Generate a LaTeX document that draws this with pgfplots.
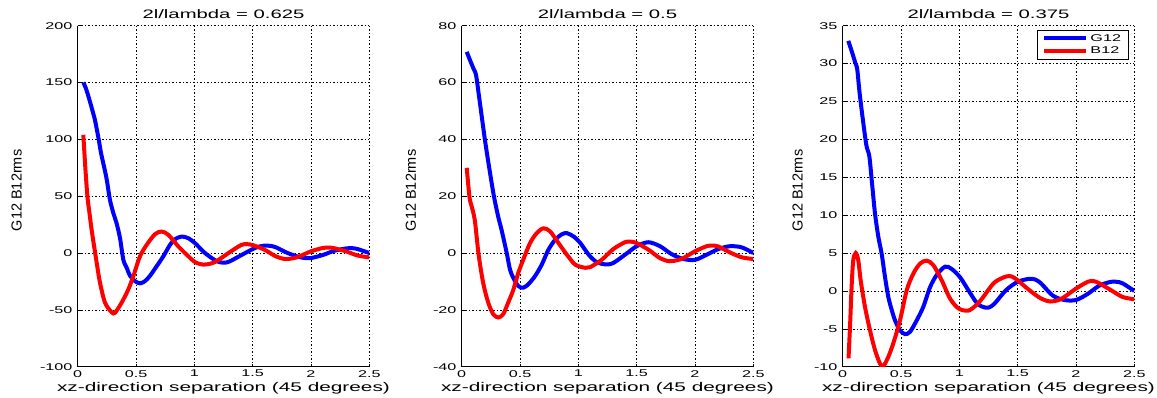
\documentclass[border=0pt]{standalone}
\usepackage{pgfplots}
\pgfplotsset{compat=1.18}
\usepackage{fontspec}
\setmainfont{Liberation Sans}
\newfontfamily\widefont{Liberation Sans}[FakeStretch=1.65]
\newcommand\tickfont{\widefont\fontsize{9.8}{11}\selectfont}
\newcommand\titlefont{\widefont\fontsize{12.3}{14}\selectfont}
\newcommand\labfont{\widefont\fontsize{12.6}{14}\selectfont}
\newcommand\ylabfont{\fontsize{14.5}{16}\selectfont}
\definecolor{mblue}{RGB}{0,0,255}
\definecolor{mred}{RGB}{255,0,0}
\pgfplotsset{mystyle/.style={
  scale only axis, width=291.6pt, height=341pt,
  xmin=0, xmax=2.5, xtick={0,0.5,1,1.5,2,2.5},
  axis x line*=bottom, axis y line*=left,
  axis line style={-, black, line width=0.6pt},
  tick align=inside, major tick length=3pt,
  tick style={black, line width=0.5pt},
  grid=major,
  major grid style={black, line width=0.5pt, dash pattern=on 1.5pt off 2pt},
  /pgf/number format/assume math mode=true,
  ticklabel style={font=\tickfont},
  yticklabel style={xshift=-1.7pt},
  title style={font=\titlefont, at={(axis description cs:0.5,1.0218)}, anchor=base, yshift=-6pt},
  xlabel style={font=\labfont, at={(axis description cs:0.5,-0.0733)}, anchor=base},
  ylabel style={font=\ylabfont, anchor=center},
  xlabel={xz-direction separation (45 degrees)},
  ylabel={G12 B12rms},
  every axis plot/.append style={line width=4pt, smooth, tension=0.5},
  clip=true,
}}
\begin{document}
\begin{tikzpicture}
\path[use as bounding box] (0,0) rectangle (1157pt,398pt);
% Panel 1
\begin{axis}[mystyle, at={(77.7pt,31.3pt)}, anchor=south west,
  ymin=-100, ymax=200, ytick={-100,-50,0,50,100,150,200},
  title={2l/lambda = 0.625},
  ylabel style={at={(axis description cs:-0.2092,0.517)}}]
\addplot[mblue, no markers] coordinates {(0.048,150)(0.07,145)(0.1,135)(0.13,124)(0.15,116)(0.18,100)(0.2,88)(0.23,74)(0.25,64)(0.277,46.5)(0.306,35)(0.334,26)(0.363,13)(0.391,-5.8)(0.42,-13)(0.449,-20)(0.491,-24.7)(0.534,-26.7)(0.577,-24.7)(0.62,-20)(0.677,-11.6)(0.734,-2.9)(0.792,7.3)(0.834,12.2)(0.892,14.5)(0.949,13)(1.006,8.7)(1.08,1)(1.15,-4.5)(1.2,-7.5)(1.25,-8.5)(1.3,-7.5)(1.4,-2)(1.5,3.5)(1.55,5.5)(1.6,6.5)(1.65,6.3)(1.7,5)(1.8,0)(1.9,-3.5)(1.95,-4.4)(2.0,-4.4)(2.1,-1.8)(2.2,2)(2.3,4)(2.35,4.3)(2.4,3.5)(2.5,0)};
\addplot[mred, no markers] coordinates {(0.048,104)(0.06,84)(0.07,68)(0.085,48)(0.1,36)(0.12,20)(0.163,-8.7)(0.191,-26)(0.234,-43.6)(0.29,-52)(0.32,-52.5)(0.377,-43.6)(0.434,-32)(0.477,-20.3)(0.534,-2.9)(0.592,7.3)(0.663,16.6)(0.72,18.9)(0.777,16)(0.863,5.8)(0.935,-1.5)(1.006,-8)(1.08,-10.2)(1.15,-9)(1.2,-6.5)(1.3,0.5)(1.4,7)(1.45,7.8)(1.5,7)(1.6,3)(1.7,-3)(1.78,-5.3)(1.85,-4.5)(1.9,-3)(2.0,1.5)(2.1,4.4)(2.15,4.8)(2.2,4.2)(2.3,1.5)(2.4,-2.2)(2.5,-3.8)};
\end{axis}
% Panel 2
\begin{axis}[mystyle, at={(461.7pt,31.3pt)}, anchor=south west,
  ymin=-40, ymax=80, ytick={-40,-20,0,20,40,60,80},
  title={2l/lambda = 0.5},
  ylabel style={at={(axis description cs:-0.1739,0.517)}}]
\addplot[mblue, no markers] coordinates {(0.043,70.8)(0.07,68)(0.1,65)(0.123,62.6)(0.149,55)(0.2,39.6)(0.244,27.9)(0.278,19.6)(0.313,12.8)(0.342,8.1)(0.386,0)(0.414,-5.8)(0.442,-8.7)(0.485,-11.6)(0.528,-12.2)(0.571,-11)(0.629,-8.1)(0.686,-4.1)(0.744,1.2)(0.802,4.7)(0.859,6.6)(0.902,7)(0.96,5.8)(1.017,3.5)(1.089,-0.6)(1.15,-3)(1.2,-3.8)(1.25,-4)(1.3,-3.5)(1.4,-0.6)(1.5,2.4)(1.6,3.8)(1.7,2.4)(1.8,-0.4)(1.9,-2.1)(2.0,-2.4)(2.1,-0.6)(2.2,1.4)(2.3,2.4)(2.4,2)(2.5,0)};
\addplot[mred, no markers] coordinates {(0.043,30)(0.067,19.6)(0.085,16.5)(0.112,11.6)(0.145,-0.5)(0.184,-10.5)(0.227,-17.4)(0.27,-21.5)(0.313,-22.7)(0.356,-21.5)(0.399,-17.4)(0.442,-13)(0.485,-7)(0.528,-2.3)(0.586,3.5)(0.643,7)(0.701,8.7)(0.758,7.6)(0.83,3.5)(0.902,-0.6)(0.974,-4.1)(1.06,-5.2)(1.1,-5)(1.2,-2.4)(1.3,1.4)(1.4,3.8)(1.45,4)(1.5,3.5)(1.6,1.2)(1.7,-1.8)(1.78,-2.9)(1.85,-2.5)(1.9,-1.8)(2.0,0.6)(2.1,2.4)(2.15,2.6)(2.2,2.3)(2.3,0.2)(2.4,-1.5)(2.5,-2.1)};
\end{axis}
% Panel 3
\begin{axis}[mystyle, at={(842.7pt,31.3pt)}, anchor=south west,
  ymin=-10, ymax=35, ytick={-10,-5,0,5,10,15,20,25,30,35},
  title={2l/lambda = 0.375},
  ylabel style={at={(axis description cs:-0.1543,0.517)}},
  legend style={at={(axis description cs:0.9794,0.9874)}, anchor=north east,
    draw=black, line width=0.5pt, font=\tickfont, inner xsep=5pt, inner ysep=2pt,
    row sep=0pt, cells={anchor=west}},
  legend image code/.code={\draw[#1] (0pt,0pt) -- (42pt,0pt);}]
\addplot[mblue, no markers] coordinates {(0.048,33)(0.08,31.5)(0.11,30)(0.125,29.2)(0.148,25.7)(0.2,19.5)(0.228,17.8)(0.249,14.6)(0.277,10.2)(0.306,7.1)(0.334,4.9)(0.363,1.8)(0.391,-0.8)(0.42,-2.5)(0.449,-3.9)(0.491,-5.2)(0.534,-5.7)(0.577,-5.4)(0.634,-3.9)(0.691,-2.1)(0.749,0.5)(0.806,2.1)(0.877,3.2)(0.934,2.9)(1.006,1.8)(1.077,0.1)(1.15,-1.6)(1.2,-2.1)(1.25,-2.2)(1.3,-1.7)(1.4,0.1)(1.5,1.2)(1.6,1.6)(1.65,1.5)(1.7,1)(1.8,-0.6)(1.9,-1.2)(2.0,-1.2)(2.1,-0.4)(2.2,0.7)(2.3,1.2)(2.35,1.2)(2.4,1)(2.5,0)};
\addlegendentry{G12}
\addplot[mred, no markers] coordinates {(0.05,-8.9)(0.065,-3.9)(0.075,0.1)(0.09,4)(0.112,5)(0.134,4)(0.154,1.4)(0.191,-2.1)(0.234,-5.2)(0.277,-7.8)(0.32,-9.6)(0.349,-9.9)(0.391,-8.7)(0.434,-6.9)(0.491,-3.9)(0.549,0.1)(0.606,2.3)(0.663,3.6)(0.72,4)(0.777,3.4)(0.849,1.4)(0.92,-1)(0.992,-2.3)(1.077,-2.6)(1.15,-1.8)(1.2,-0.9)(1.3,1.1)(1.4,1.9)(1.45,1.9)(1.5,1.4)(1.6,0.1)(1.7,-1)(1.78,-1.4)(1.85,-1.2)(1.9,-0.8)(2.0,0.3)(2.1,1.2)(2.15,1.3)(2.2,1)(2.3,0.1)(2.4,-0.8)(2.5,-1.1)};
\addlegendentry{B12}
\end{axis}
\end{tikzpicture}
\end{document}
